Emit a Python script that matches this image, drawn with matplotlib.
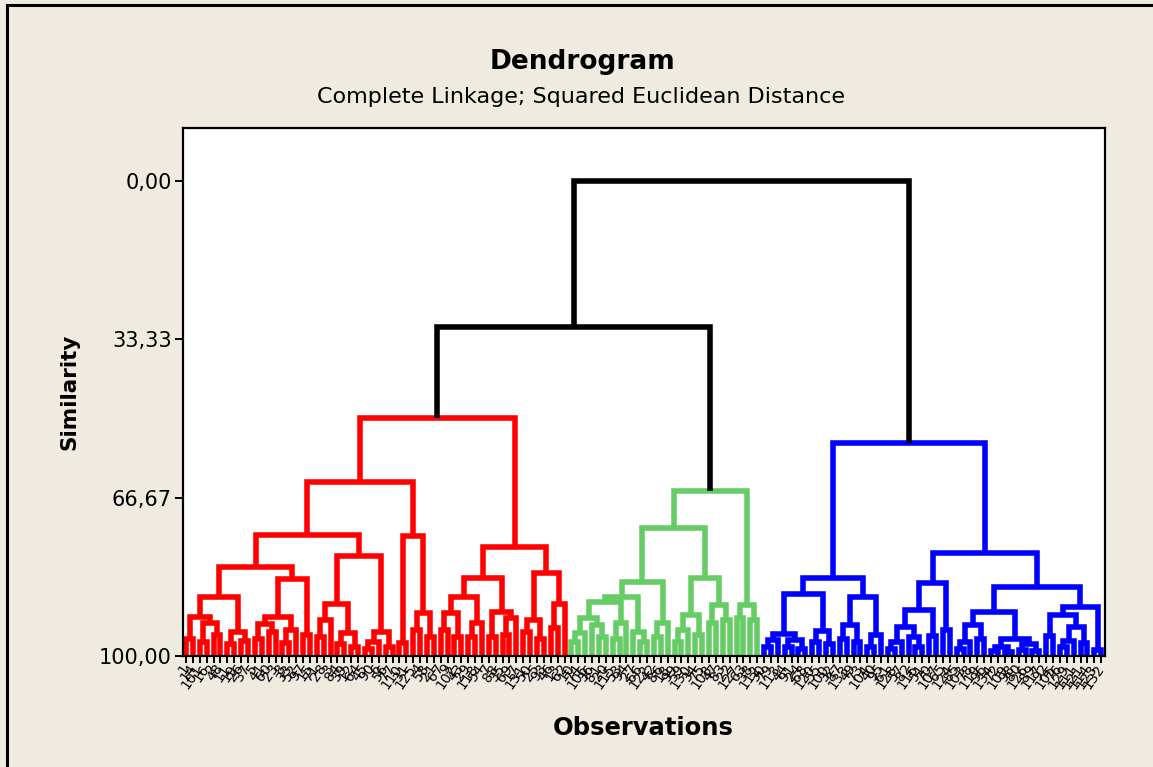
import matplotlib.pyplot as plt
from matplotlib.patches import Rectangle

o = 0  # a single observation (leaf)

# merges as (similarity, left, right)
red_a = (87.6, (91.8, (96.5, o, o), (93.0, (97.0, o, o), (95.5, o, o))),
               (95.0, (97.5, o, o), (96.8, o, o)))
red_b = (83.7, (91.8, (93.3, (96.5, o, o), (95.0, o, o)), (94.5, (97.2, o, o), o)),
               (95.5, o, o))
red_c = (79.0, (89.0, (92.5, (96.0, o, o), o), (95.2, (97.5, o, o), (98.0, o, o))),
               (95.0, (97.0, (98.5, o, o), o), (98.2, o, o)))
red_d = (74.8, (97.3, o, o), (91.0, (94.5, o, o), (96.0, o, o)))
red_e = (83.6, (87.6, (91.0, (94.5, o, o), (96.0, o, o)), (93.0, (96.0, o, o), o)),
               (90.7, (96.0, o, o), (92.0, (95.5, o, o), o)))
red_f = (82.5, (92.4, (95.0, o, o), (96.5, o, o)), (89.0, (94.0, o, o), o))
red = (49.9, (63.4, (74.5, (81.3, red_a, red_b), red_c), red_d), (77.0, red_e, red_f))

green_a = (84.4, (87.6, (88.6, (92.0, (95.2, (97.0, o, o), o), (93.5, o, (96.0, o, o))),
                               (93.0, (96.5, o, o), o)),
                        (95.0, o, (97.0, o, o))),
                 (93.0, (96.0, o, o), o))
green_b = (83.6, (91.4, (94.5, (97.0, o, o), o), (95.5, o, o)),
                 (89.3, (93.0, o, o), (92.5, o, o)))
green_c = (89.3, (92.0, o, o), (92.5, o, o))
green = (65.3, (73.0, green_a, green_b), green_c)

blue_a = (86.9, (95.4, (96.6, (98.0, o, o), o), (96.6, (98.0, o, o), (98.5, o, o))),
                (94.7, (97.0, o, o), (97.5, o, o)))
blue_b = (87.6, (93.5, (96.5, o, o), (97.0, o, o)), (95.6, (98.0, o, o), o))
blue_c = (84.6, (90.3, (93.9, (97.0, (98.5, o, o), o), (96.0, o, (98.0, o, o))), (95.8, o, o)),
                (94.5, o, o))
blue_d = (85.5, (90.7, (93.5, (97.0, (98.5, o, o), o), (96.5, o, o)),
                       (96.4, (98.0, (99.0, o, o), (99.2, o, o)), (97.5, (98.8, o, o), (99.0, o, o)))),
                (89.7, (91.4, (95.8, o, o), (93.9, (96.8, (98.0, o, o), o), (97.3, o, o))),
                       (98.7, o, o)))
blue = (55.2, (83.6, blue_a, blue_b), (78.3, blue_c, blue_d))

root = (0.0, (30.7, red, green), blue)

# observation numbers in leaf order
obs_labels = [1, 14, 101, 16, 2, 48, 11, 19, 26, 37, 5, 41, 60, 23, 8, 33, 52, 97, 15, 71,
              28, 3, 84, 39, 12, 64, 45, 90, 6, 56, 77, 110, 31, 125, 4, 58, 21, 67, 9, 102,
              43, 29, 118, 54, 7, 88, 35, 69, 17, 131, 50, 25, 93, 46, 13, 62,
              10, 74, 106, 36, 81, 20, 115, 53, 94, 27, 66, 122, 42, 86, 18, 99, 59, 130,
              34, 75, 108, 47, 83, 22, 127, 63, 38, 112,
              30, 79, 113, 44, 91, 24, 68, 120, 55, 100, 32, 87, 133, 49, 73, 104, 40, 95,
              61, 128, 57, 82, 116, 51, 70, 107, 65, 124, 85, 103, 78, 119, 96, 134, 72, 109,
              98, 80, 126, 89, 117, 92, 105, 76, 129, 111, 121, 114, 123, 132]

cluster_colors = {id(red): '#FF0000', id(green): '#66CC66', id(blue): '#0000FF'}
sim_ticks = [0, 33.33, 66.67, 100]
sim_labels = ['0,00', '33,33', '66,67', '100,00']

segments = []
next_leaf = [0]


def place(node, color):
    if not isinstance(node, tuple):
        x = next_leaf[0]
        next_leaf[0] += 1
        return x, 100.0
    color = cluster_colors.get(id(node), color)
    h, a, b = node
    xa, ha = place(a, color)
    xb, hb = place(b, color)
    segments.append(([xa, xa, xb, xb], [ha, h, h, hb], color))
    return (xa + xb) / 2, h


place(root, 'black')
n = next_leaf[0]

W, H = 1153, 767
fig = plt.figure(figsize=(W / 100, H / 100), dpi=100, facecolor='#EFEBE0')
ax = fig.add_axes([183 / W, 1 - 656 / H, (1105 - 183) / W, (656 - 128) / H])
ax.set_facecolor('white')

for xs, ys, c in segments:
    ax.plot(xs, ys, color=c, lw=4.0, solid_joinstyle='miter', solid_capstyle='butt')

ax.set_xlim(-0.45, n - 1 + 0.55)
ax.set_ylim(100, -11.2)
ax.set_yticks(sim_ticks)
ax.set_yticklabels(sim_labels, fontsize=15)
ax.set_xticks(range(n))
ax.set_xticklabels([str(v) for v in obs_labels[:n]], fontsize=10, rotation=55,
                   ha='right', va='center', rotation_mode='anchor')
ax.tick_params(axis='x', length=5, width=1.4, pad=2)
ax.tick_params(axis='y', length=6, width=1.4, pad=2)
for s in ax.spines.values():
    s.set_linewidth(1.6)

ax.set_ylabel('Similarity', fontsize=15.5, fontweight='bold', labelpad=14)
fig.text(643 / W, 1 - 728 / H, 'Observations', fontsize=17.5, fontweight='bold',
         ha='center', va='center')
fig.text(583 / W, 1 - 62 / H, 'Dendrogram', fontsize=19, fontweight='bold',
         ha='center', va='center')
fig.text(581 / W, 1 - 97 / H, 'Complete Linkage; Squared Euclidean Distance', fontsize=16,
         ha='center', va='center')

fig.add_artist(Rectangle((7 / W, -0.05), 1.2, 1.05 - 5 / H, transform=fig.transFigure,
                         fill=False, lw=2.2, ec='black'))

fig.savefig('out.png', dpi=100, facecolor=fig.get_facecolor())
